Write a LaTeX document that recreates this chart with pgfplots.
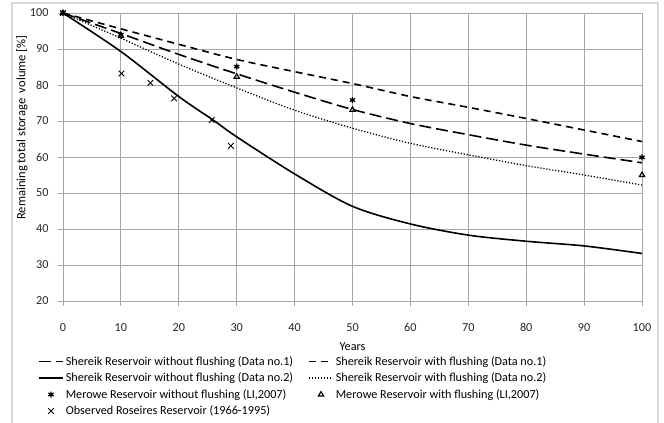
\documentclass[border=0pt]{standalone}
\usepackage{pgfplots}
\pgfplotsset{compat=1.18}
\usepackage{fontspec}
\setmainfont{Carlito}
\definecolor{gridgray}{HTML}{A6A6A6}
\definecolor{framegray}{HTML}{D9D9D9}
\begin{document}
\begin{tikzpicture}
\useasboundingbox (0pt,0pt) rectangle (664pt,423pt);
\draw[framegray, line width=1.5pt] (12pt,-20pt) rectangle (658pt,420pt);
\begin{axis}[
  at={(63pt,122pt)}, anchor=south west,
  scale only axis, width=579pt, height=288pt,
  xmin=0, xmax=100, ymin=20, ymax=100,
  xtick={0,10,...,100}, ytick={20,30,...,100},
  grid=major, grid style={gridgray, line width=0.8pt},
  axis line style={gridgray, line width=0.8pt},
  tick style={gridgray, line width=0.8pt},
  tick align=outside, major tick length=5pt,
  xtick pos=bottom, ytick pos=left,
  /pgf/number format/assume math mode=true,
  ticklabel style={font=\fontsize{12.2}{14}\selectfont, text=black!85},
  xticklabel style={yshift=-14pt},
  yticklabel style={xshift=-6pt},
  xlabel={Years},
  xlabel style={font=\fontsize{12.2}{14}\selectfont, at={(axis description cs:0.5,-0.16)}, anchor=center},
  ylabel={Remaining total storage\ \ volume [\%]},
  ylabel style={font=\fontsize{12.6}{14}\selectfont, at={(axis description cs:-0.0708,0.602)}, anchor=center},
  legend columns=2,
  legend cell align=left,
  legend image code/.code={\draw[mark repeat=2,mark phase=2,#1] plot coordinates {(0pt,0pt) (12pt,0pt) (24pt,0pt)};},
  legend style={at={(axis description cs:-0.0432,-0.185)}, anchor=north west, draw=none, fill=none, inner sep=0pt,
    font=\fontsize{12.2}{14}\selectfont, row sep=2pt,
    /tikz/every even column/.append style={column sep=13pt}},
]
\addplot[black, line width=1.6pt, dash pattern=on 12pt off 5pt, smooth] coordinates {
(0,100) (10,94.3) (20,88.5) (30,83.1) (40,78) (50,73.2) (60,69.3) (70,66.2) (80,63.3) (90,60.8) (100,58.4)};
\addlegendentry{Shereik Reservoir without flushing (Data no.1)}
\addplot[black, line width=1.6pt, dash pattern=on 7pt off 5pt, smooth] coordinates {
(0,100) (10,95.6) (20,91.3) (30,87.1) (40,83.7) (50,80.4) (60,76.8) (70,73.8) (80,70.7) (90,67.5) (100,64.3)};
\addlegendentry{Shereik Reservoir with flushing (Data no.1)}
\addplot[black, line width=1.6pt, smooth] coordinates {
(0,100) (10,89.3) (20,76.8) (26,70.2) (30,65.6) (40,55.3) (50,46.3) (60,41.4) (70,38.3) (80,36.6) (90,35.3) (100,33.2)};
\addlegendentry{Shereik Reservoir without flushing (Data no.2)}
\addplot[black, line width=1.3pt, dash pattern=on 1.2pt off 1.8pt, smooth] coordinates {
(0,100) (10,93) (20,85.8) (30,79.2) (40,73) (50,68) (60,63.8) (70,60.6) (80,57.6) (90,55) (100,52.2)};
\addlegendentry{Shereik Reservoir with flushing (Data no.2)}
\addplot[black, only marks, mark=asterisk, mark size=3pt, mark options={line width=1.3pt}] coordinates {
(0,100) (10,94) (30,85.1) (50,75.8) (100,59.9)};
\addlegendentry{Merowe Reservoir without flushing (LI,2007)}
\addplot[black, only marks, mark=triangle, mark size=3pt, mark options={line width=1.1pt}] coordinates {
(0,100) (10,93.6) (30,82.3) (50,73.1) (100,55)};
\addlegendentry{Merowe Reservoir with flushing (LI,2007)}
\addplot[black, only marks, mark=x, mark size=4pt, mark options={line width=0.9pt}] coordinates {
(0,100) (10.1,83.2) (15.1,80.6) (19.2,76.3) (25.7,70.3) (29,63.1)};
\addlegendentry{Observed Roseires Reservoir (1966-1995)}
\end{axis}
\end{tikzpicture}
\end{document}
